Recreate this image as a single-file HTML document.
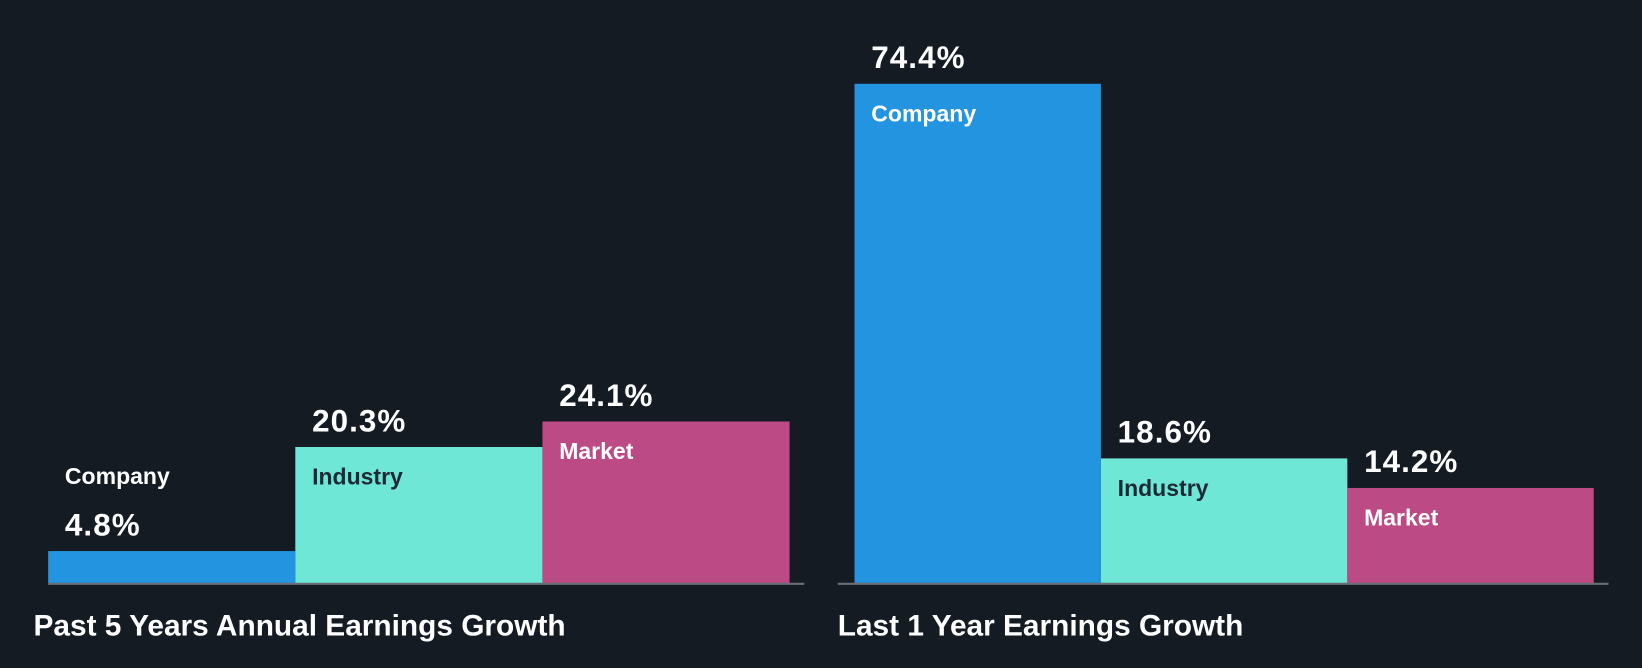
<!DOCTYPE html>
<html><head><meta charset="utf-8"><style>
html,body{margin:0;padding:0;background:#151b23;}
svg{display:block;font-family:"Liberation Sans",Arial,sans-serif;font-weight:bold;}
</style></head><body>
<svg id="chart" width="1642" height="668" viewBox="0 0 1642 668">
<rect width="1642" height="668" fill="#151b23"/>
<g id="plot" transform="scale(1.0472)"></g>
</svg>
<script>
const panelTitles = ["Past 5 Years Annual Earnings Growth", "Last 1 Year Earnings Growth"];
const categories = ["Company", "Industry", "Market"];
const past5Values = [4.8, 20.3, 24.1];
const last1Values = [74.4, 18.6, 14.2];
const valueLabelsPast5 = ["4.8%", "20.3%", "24.1%"];
const valueLabelsLast1 = ["74.4%", "18.6%", "14.2%"];

const svg = document.getElementById('plot');
const NS = 'http://www.w3.org/2000/svg';
const baseY = 557, topY = 80, maxVal = 74.4;
const yScale = v => baseY - (v / maxVal) * (baseY - topY);
const colors = ["#2394df", "#6ee7d6", "#bb4a85"];
const labelColors = ["#ffffff", "#1d2a36", "#ffffff"];
const panels = [
  {x0: 46, bw: 236, lineX0: 46, lineX1: 768, titleX: 32, vals: past5Values, labels: valueLabelsPast5},
  {x0: 816, bw: 235.3, lineX0: 800, lineX1: 1536, titleX: 800, vals: last1Values, labels: valueLabelsLast1}
];
function mk(tag, attrs, text){
  const e = document.createElementNS(NS, tag);
  for (const k in attrs) e.setAttribute(k, attrs[k]);
  if (text !== undefined) e.textContent = text;
  svg.appendChild(e);
  return e;
}
panels.forEach((p, pi) => {
  p.vals.forEach((v, i) => {
    const x = p.x0 + i * p.bw, y = yScale(v);
    const r = mk('rect', {x: x, y: y, width: p.bw, height: baseY - y, fill: colors[i]});
    
    
    const small = (baseY - y) < 60;
    const vt = mk('text', {x: x + 16, y: y - 15, fill: '#ffffff', 'font-size': 30, 'letter-spacing': 1}, p.labels[i]);
    
    
    const ct = mk('text', {x: x + 16, y: small ? y - 64 : y + 36, fill: small ? '#ffffff' : labelColors[i], 'font-size': 22}, categories[i]);
    
    
  });
  const ln = mk('line', {x1: p.lineX0, x2: p.lineX1, y1: baseY + 0.5, y2: baseY + 0.5, stroke: '#6a6f76', 'stroke-width': 2});
  
  
  const tt = mk('text', {x: p.titleX, y: 607, fill: '#ffffff', 'font-size': 28.5}, panelTitles[pi]);
  
  
});
</script>
</body></html>
